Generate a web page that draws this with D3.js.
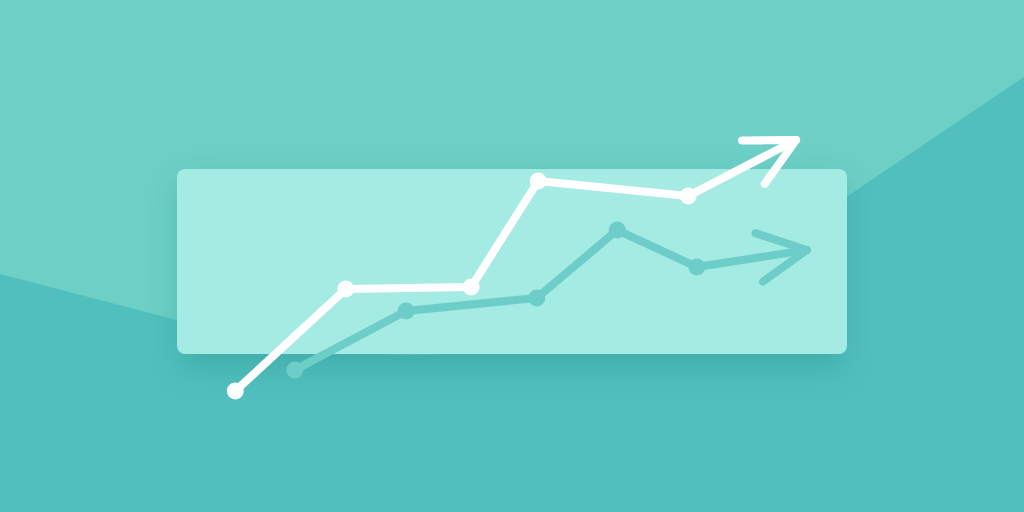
<!DOCTYPE html>
<html>
<head>
<meta charset="utf-8">
<script src="https://cdn.jsdelivr.net/npm/d3@7"></script>
<style>
  html, body { margin: 0; padding: 0; background: #52bebd; }
  svg { display: block; }
</style>
</head>
<body>
<svg id="viz" width="1024" height="512"></svg>
<script>
  // growth lines, x and y in panel percent (panel = 0..100 both ways)
  let whiteX = [8.7, 25.2, 43.9, 53.9, 76.3, 92.4];
  let whiteY = [-20, 35.1, 36.2, 93.5, 85.4, 115.7];
  let tealX = [17.6, 34.2, 53.7, 65.7, 77.6, 94.0];
  let tealY = [-8.6, 23.2, 30.3, 67.0, 47.0, 56.2];

  let W = 1024, H = 512;
  let panel = { x: 177, y: 169, w: 670, h: 185 };

  let svg = d3.select("#viz");

  let xScale = d3.scaleLinear().domain([0, 100]).range([panel.x, panel.x + panel.w]);
  let yScale = d3.scaleLinear().domain([0, 100]).range([panel.y + panel.h, panel.y]);

  // blur used for the soft shadow under the panel
  let defs = svg.append("defs");
  defs.append("filter").attr("id", "blur")
    .attr("filterUnits", "userSpaceOnUse")
    .attr("x", -100).attr("y", -100).attr("width", W + 200).attr("height", H + 200)
    .append("feGaussianBlur").attr("stdDeviation", 15);

  // background: light top, darker curved bottom (the bend hides behind the panel)
  svg.append("rect").attr("width", W).attr("height", H).attr("fill", "#6dcfc5");
  svg.append("path")
    .attr("d", "M0,274 L200,326 Q560,420 830,208 L1024,77 L1024,512 L0,512 Z")
    .attr("fill", "#51bfbd");

  svg.append("rect")
    .attr("x", panel.x + 4).attr("y", panel.y + 14)
    .attr("width", panel.w - 8).attr("height", panel.h)
    .attr("rx", 8)
    .attr("fill", "#2f9c98")
    .attr("opacity", 0.5)
    .attr("filter", "url(#blur)");

  svg.append("rect")
    .attr("x", panel.x).attr("y", panel.y)
    .attr("width", panel.w).attr("height", panel.h)
    .attr("rx", 8)
    .attr("fill", "#a4ebe3");

  function drawSeries(xs, ys, color, width) {
    let pts = xs.map((x, i) => [xScale(x), yScale(ys[i])]);
    let g = svg.append("g");
    g.append("path")
      .attr("d", d3.line()(pts))
      .attr("fill", "none")
      .attr("stroke", color)
      .attr("stroke-width", width)
      .attr("stroke-linecap", "round")
      .attr("stroke-linejoin", "round");

    // arrow head at the last point
    let tip = pts[pts.length - 1], prev = pts[pts.length - 2];
    let back = Math.atan2(prev[1] - tip[1], prev[0] - tip[0]);
    let len = 54, spread = 27 * Math.PI / 180;
    let arms = [back + spread, back - spread].map(a => [tip[0] + len * Math.cos(a), tip[1] + len * Math.sin(a)]);
    g.append("path")
      .attr("d", d3.line()([arms[0], tip, arms[1]]))
      .attr("fill", "none")
      .attr("stroke", color)
      .attr("stroke-width", width)
      .attr("stroke-linecap", "round")
      .attr("stroke-linejoin", "round");

    // dots on all but the tip
    g.selectAll("circle")
      .data(pts.slice(0, -1))
      .enter()
      .append("circle")
      .attr("cx", d => d[0])
      .attr("cy", d => d[1])
      .attr("r", 8.5)
      .attr("fill", color);
  }

  drawSeries(tealX, tealY, "#6dcdc8", 8);
  drawSeries(whiteX, whiteY, "#ffffff", 8);
</script>
</body>
</html>
